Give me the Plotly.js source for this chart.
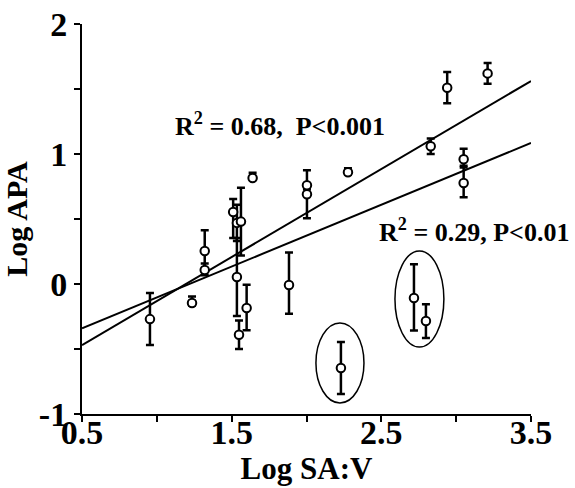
<!DOCTYPE html>
<html>
<head>
<meta charset="utf-8">
<script src="https://cdn.plot.ly/plotly-3.0.1.min.js"></script>
<style>html,body{margin:0;padding:0;background:#fff;}#chart{width:575px;height:488px;}</style>
</head>
<body>
<div id="chart"></div>
<script>
// Data
const logSAV = [0.954, 1.235, 1.32, 1.32, 1.51, 1.535, 1.562, 1.535, 1.549, 1.60, 1.64, 1.883, 2.003, 2.003, 2.277, 2.23, 2.718, 2.798, 2.83, 2.94, 3.05, 3.05, 3.21];
const logAPA = [-0.27, -0.146, 0.254, 0.108, 0.554, 0.47, 0.48, 0.054, -0.39, -0.185, 0.815, -0.008, 0.76, 0.69, 0.86, -0.646, -0.108, -0.285, 1.06, 1.51, 0.96, 0.777, 1.62];
const errPlus = [0.2, 0.05, 0.16, 0.05, 0.1, 0.14, 0.26, 0.3, 0.11, 0.18, 0.04, 0.25, 0.115, 0.04, 0.03, 0.2, 0.26, 0.13, 0.06, 0.12, 0.08, 0.12, 0.08];
const errMinus = [0.2, 0.02, 0.16, 0.04, 0.2, 0.14, 0.26, 0.3, 0.11, 0.17, 0.01, 0.22, 0.05, 0.185, 0.02, 0.2, 0.25, 0.13, 0.06, 0.12, 0.05, 0.11, 0.08];

// Regression fits (y = slope * x + intercept), drawn across the x range
const fitRange = [0.5, 3.5];
const fitSlopes = [0.677, 0.475];
const fitIntercepts = [-0.808, -0.578];
const fitLabels = ["R<sup>2</sup> = 0.68,&nbsp; P&lt;0.001", "R<sup>2</sup> = 0.29, P&lt;0.01"];

// Tick labels
const xTickVals = [0.5, 1.5, 2.5, 3.5];
const yTickVals = [-1, 0, 1, 2];

const FONT = "'Liberation Serif', 'Times New Roman', serif";

const traces = [];
fitSlopes.forEach((m, i) => {
  traces.push({
    type: 'scatter', mode: 'lines',
    x: fitRange,
    y: fitRange.map(v => m * v + fitIntercepts[i]),
    line: {color: '#000', width: 2},
    hoverinfo: 'skip', showlegend: false
  });
});
traces.push({
  type: 'scatter', mode: 'markers',
  x: logSAV, y: logAPA,
  error_y: {type: 'data', symmetric: false, array: errPlus, arrayminus: errMinus,
            color: '#000', thickness: 2.5, width: 4},
  marker: {symbol: 'circle', size: 8.5, color: '#fff', line: {color: '#000', width: 2}},
  showlegend: false
});

const layout = {
  width: 575, height: 488,
  margin: {l: 82, r: 44, t: 24, b: 74},
  paper_bgcolor: '#fff', plot_bgcolor: '#fff',
  font: {family: FONT, color: '#000', size: 27},
  showlegend: false,
  xaxis: {
    range: [0.5, 3.5], tickvals: xTickVals, ticktext: xTickVals.map(v => '<b>' + v + '</b>'),
    showgrid: false, zeroline: false, showline: true, linecolor: '#000', linewidth: 2,
    ticks: 'outside', ticklen: 6, tickwidth: 2, tickcolor: '#000',
    ticklabelstandoff: -19,
    minor: {tickvals: [1.0, 2.0, 3.0], ticks: 'outside', ticklen: 6, tickwidth: 2, tickcolor: '#000'},
    tickfont: {family: FONT, size: 34, color: '#000'},
    title: {text: '<b>Log SA:V</b>', font: {family: FONT, size: 31}, standoff: 8}
  },
  yaxis: {
    range: [-1, 2], tickvals: yTickVals, ticktext: yTickVals.map(v => '<b>' + v + '</b>'),
    showgrid: false, zeroline: false, showline: true, linecolor: '#000', linewidth: 2,
    ticks: 'outside', ticklen: 6, tickwidth: 2, tickcolor: '#000',
    minor: {tickvals: [-0.5, 0.5, 1.5], ticks: 'outside', ticklen: 6, tickwidth: 2, tickcolor: '#000'},
    tickfont: {family: FONT, size: 34, color: '#000'},
    title: {text: '<b>Log APA</b>', font: {family: FONT, size: 30}, standoff: 4}
  },
  annotations: [
    {x: 1.82, y: 1.23, xref: 'x', yref: 'y', text: '<b>' + fitLabels[0] + '</b>', showarrow: false,
     font: {family: FONT, size: 26}},
    {x: 3.12, y: 0.41, xref: 'x', yref: 'y', text: '<b>' + fitLabels[1] + '</b>', showarrow: false,
     font: {family: FONT, size: 26}}
  ],
  shapes: [
    {type: 'circle', xref: 'x', yref: 'y', x0: 2.063, x1: 2.384, y0: -0.915, y1: -0.30,
     line: {color: '#000', width: 1.5}},
    {type: 'circle', xref: 'x', yref: 'y', x0: 2.591, x1: 2.918, y0: -0.485, y1: 0.254,
     line: {color: '#000', width: 1.5}}
  ]
};

Plotly.newPlot('chart', traces, layout, {displayModeBar: false, staticPlot: true});
</script>
</body>
</html>
